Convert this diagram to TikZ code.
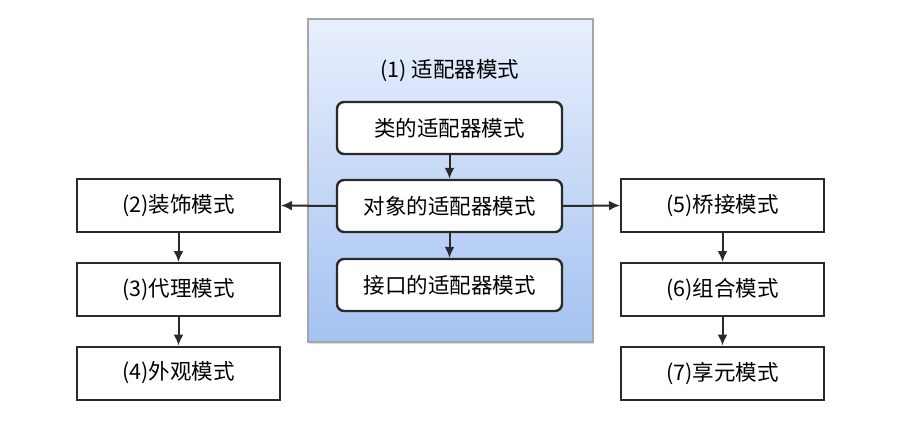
\documentclass[tikz,border=0pt]{standalone}
\usepackage{fontspec}
\setmainfont{Noto Sans CJK SC}
\usetikzlibrary{arrows.meta,positioning,shadows}
\definecolor{paneltop}{HTML}{E8EFFC}
\definecolor{panelbot}{HTML}{A4C2F2}
\definecolor{boxline}{HTML}{2A2A2A}

\begin{document}
\begin{tikzpicture}[
    x=1pt, y=-1pt,
    font=\fontsize{21.5}{25}\selectfont,
    >=Latex,
    panel/.style={draw=gray!70, line width=1.2pt, top color=paneltop, bottom color=panelbot, minimum width=285pt, minimum height=323pt, inner sep=0pt, drop shadow={opacity=0.25, shadow xshift=1pt, shadow yshift=-2pt}},
    inner/.style={draw=boxline, line width=2.4pt, rounded corners=7pt, fill=white, minimum width=225pt, minimum height=52pt, inner sep=0pt},
    side/.style={draw=boxline, line width=2pt, fill=white, minimum width=203pt, minimum height=53pt, inner sep=0pt},
    arrow/.style={-{Latex[length=11pt,width=10pt]}, line width=2pt, draw=boxline}
]
\useasboundingbox (0,0) rectangle (915,432);

% adapter panel
\node[panel] (panel) at (450.5, 180.5) {};
\node (title) at (450, 71) {(1) 适配器模式};
\node[inner] (classadp) at (449.5, 128) {类的适配器模式};
\node[inner] (objadp) at (449.5, 206) {对象的适配器模式};
\node[inner] (ifadp) at (449.5, 285) {接口的适配器模式};

% left column
\node[side] (decorator) at (178.5, 205.5) {(2)装饰模式};
\node[side] (proxy) at (178.5, 289.5) {(3)代理模式};
\node[side] (facade) at (178.5, 373) {(4)外观模式};

% right column
\node[side] (bridge) at (722.5, 205.5) {(5)桥接模式};
\node[side] (composite) at (722.5, 289.5) {(6)组合模式};
\node[side] (flyweight) at (722.5, 373) {(7)享元模式};

\draw[arrow] (classadp) -- (objadp);
\draw[arrow] (objadp) -- (ifadp);
\draw[arrow] (objadp.west) -- (decorator.east);
\draw[arrow] (objadp.east) -- (bridge.west);
\draw[arrow] (decorator) -- (proxy);
\draw[arrow] (proxy) -- (facade);
\draw[arrow] (bridge) -- (composite);
\draw[arrow] (composite) -- (flyweight);
\end{tikzpicture}
\end{document}
